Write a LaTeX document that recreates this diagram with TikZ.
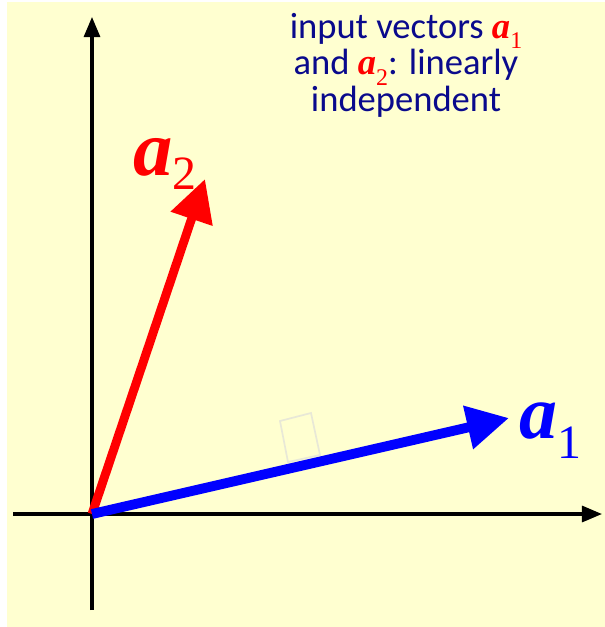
\documentclass[tikz,border=0pt]{standalone}
\usepackage{fontspec}
\setmainfont{Carlito}
\newfontfamily\vecfont{Liberation Serif}
\usetikzlibrary{arrows.meta,positioning}
\definecolor{paper}{RGB}{255,255,208}
\definecolor{navytext}{RGB}{10,10,140}
\definecolor{markgray}{RGB}{232,232,215}
\tikzset{
  axisline/.style={line width=2.2pt, -{Triangle[length=5mm,width=4mm]}},
  vecarrow/.style={line width=7pt, -{Triangle[length=10.5mm,width=10.5mm]}},
  veclabel/.style={inner sep=0pt, anchor=base west},
  note/.style={align=center, text=navytext, font=\fontsize{26}{26}\selectfont}
}
\newcommand{\bigvec}[3]{{\fontsize{#3}{#3}\selectfont\vecfont\bfseries\itshape a}%
  \raisebox{-#2}{\fontsize{34}{34}\selectfont\vecfont #1}}
\newcommand{\smallvec}[1]{{\vecfont\bfseries\itshape\color{red}a}%
  \smash{\raisebox{-0.6ex}{\fontsize{17}{17}\selectfont\vecfont\color{red}#1}}}

\begin{document}
\begin{tikzpicture}[x=0.025cm, y=-0.025cm]
  \useasboundingbox (0,0) rectangle (605,627);
  \fill[paper] (7,2) rectangle (605,627);
  % axes
  \coordinate (origin) at (92,514);
  \coordinate (xstart) at (13,514);
  \coordinate (xend) at (602,514);
  \coordinate (ystart) at (92,610);
  \coordinate (yend) at (92,17);
  \draw[axisline] (xstart) -- (xend);
  \draw[axisline] (ystart) -- (yend);
  % faint marker
  \draw[markgray, line width=1.2pt] (280,421) -- (311,413) -- (320,455) -- (288,462) -- cycle;
  % vectors
  \coordinate (a1tip) at (509,418);
  \coordinate (a2tip) at (205,179);
  \draw[vecarrow, red, line width=6.3pt] (origin) -- (a2tip);
  \draw[vecarrow, blue] (origin) -- (a1tip);
  \node[veclabel, text=red] (a2lab) at (133,175) {\bigvec{2}{0.36cm}{56}};
  \node[veclabel, text=blue] (a1lab) at (519,438) {\bigvec{1}{0.5cm}{54}};
  % caption
  \node[note] (caption) at (406,65) {input vectors \smallvec{1}\\and \smallvec{2}: linearly\\independent};
\end{tikzpicture}
\end{document}
